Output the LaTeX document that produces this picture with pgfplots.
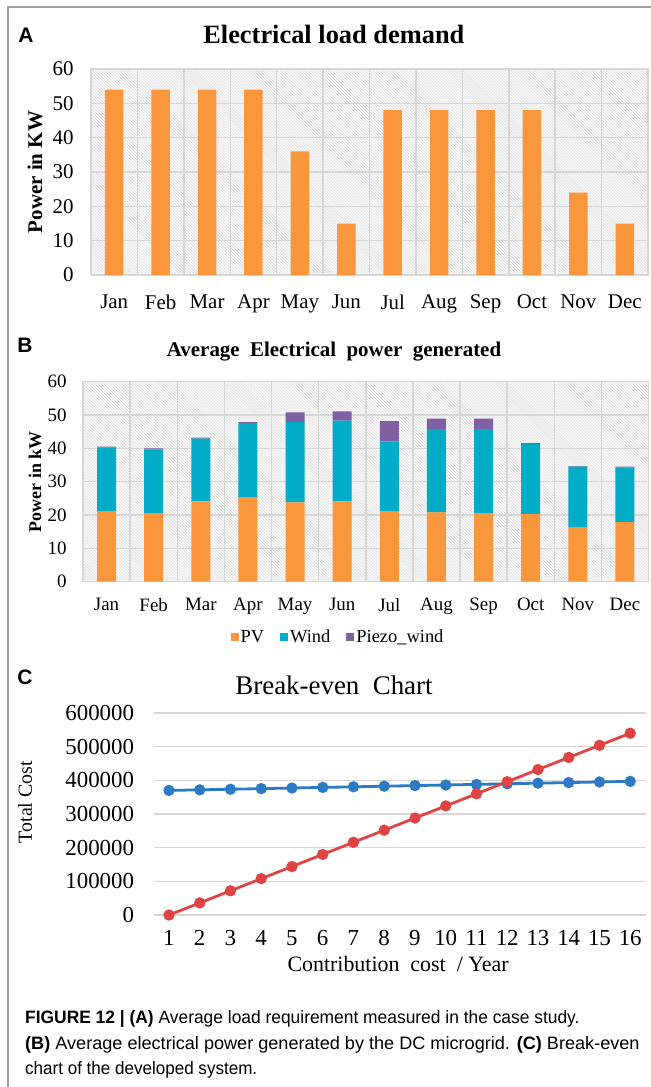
\documentclass[border=0pt]{standalone}
\usepackage{fontspec}
\setmainfont{Liberation Serif}
\newfontfamily\capfont{Liberation Sans}
\usepackage{pgfplots}
\pgfplotsset{compat=1.18}
\usetikzlibrary{patterns}
\definecolor{pvor}{RGB}{250,150,60}
\definecolor{windc}{RGB}{0,172,198}
\definecolor{piezoc}{RGB}{128,96,162}
\definecolor{gridc}{RGB}{214,214,214}
\definecolor{lblue}{RGB}{44,122,196}
\definecolor{lred}{RGB}{222,68,68}
\pgfplotsset{
  hatchbg/.style={axis background/.style={fill=gray!4, postaction={pattern=north west lines, pattern color=gray!32}}},
}
\begin{document}
\begin{tikzpicture}
\useasboundingbox (0,0) rectangle (651bp,-1087bp);
\draw[line width=1.4bp, color=gray!75] (8bp,-1087bp) -- (8bp,-7bp) -- (651bp,-7bp);
\node[font=\capfont\bfseries\fontsize{21}{21}\selectfont] at (26bp,-35.5bp) {A};
\node[font=\capfont\bfseries\fontsize{21}{21}\selectfont] at (25bp,-345bp) {B};
\node[font=\capfont\bfseries\fontsize{21}{21}\selectfont] at (25bp,-677bp) {C};

% Panel A
\begin{axis}[
  at={(91bp,-275bp)}, anchor=south west,
  scale only axis, width=557bp, height=206bp,
  hatchbg,
  xmin=-0.5, xmax=11.5, ymin=0, ymax=60,
  ytick={0,10,...,60},
  xtick={0,...,11},
  xticklabels={Jan,Feb,Mar,Apr,May,Jun,Jul,Aug,Sep,Oct,Nov,Dec},
  minor xtick={0.5,1.5,...,10.5},
  ymajorgrids, xminorgrids,
  grid style={gridc, line width=1.5bp},
  minor grid style={gridc, line width=1.5bp},
  axis line style={gridc, line width=1.5bp},
  major tick length=0pt, minor tick length=0pt,
  ticklabel style={font=\fontsize{21}{21}\selectfont},
  /pgf/number format/assume math mode=true,
  yticklabel style={xshift=-14bp},
  xticklabel style={yshift=-16bp},
  title={Electrical load demand},
  title style={at={(axis description cs:0.436,1.141)}, anchor=center, font=\bfseries\fontsize{26.5}{26.5}\selectfont},
  ylabel={Power in KW},
  every axis y label/.style={at={(axis description cs:-0.1005,0.5)}, anchor=center, rotate=90, font=\bfseries\fontsize{21}{21}\selectfont},
  ybar, bar width=18.5bp,
]
\addplot[fill=pvor, draw=none] coordinates {
 (0,54) (1,54) (2,54) (3,54) (4,36) (5,15) (6,48) (7,48) (8,48) (9,48) (10,24) (11,15)};
\end{axis}

% Panel B
\begin{axis}[
  at={(83bp,-581.7bp)}, anchor=south west,
  scale only axis, width=565.5bp, height=200bp,
  hatchbg,
  xmin=-0.5, xmax=11.5, ymin=0, ymax=60,
  ytick={0,10,...,60},
  xtick={0,...,11},
  xticklabels={Jan,Feb,Mar,Apr,May,Jun,Jul,Aug,Sep,Oct,Nov,Dec},
  minor xtick={0.5,1.5,...,10.5},
  ymajorgrids, xminorgrids,
  grid style={gridc, line width=1.5bp},
  minor grid style={gridc, line width=1.5bp},
  axis line style={gridc, line width=1.5bp},
  major tick length=0pt, minor tick length=0pt,
  ticklabel style={font=\fontsize{19}{19}\selectfont},
  /pgf/number format/assume math mode=true,
  yticklabel style={xshift=-13bp},
  xticklabel style={yshift=-13bp},
  title={Average\ \ Electrical\ \ power\ \ generated},
  title style={at={(axis description cs:0.4439,1.1185)}, anchor=center, font=\bfseries\fontsize{21}{21}\selectfont},
  ylabel={Power in kW},
  every axis y label/.style={at={(axis description cs:-0.0849,0.5)}, anchor=center, rotate=90, font=\bfseries\fontsize{18}{18}\selectfont},
  ybar stacked, bar width=19bp,
  legend style={at={(axis description cs:0.451,-0.2765)}, anchor=center, draw=none, fill=none,
    legend columns=3, font=\fontsize{18.5}{18.5}\selectfont,
    /tikz/every even column/.append style={column sep=14bp}},
  legend image code/.code={\fill[#1] (0bp,-4bp) rectangle (8bp,4bp);},
]
\addplot[fill=pvor, draw=none] coordinates {
 (0,21.2) (1,20.6) (2,24.1) (3,25.2) (4,23.8) (5,24.1) (6,21.2) (7,20.8) (8,20.6) (9,20.3) (10,16.4) (11,17.9)};
\addplot[fill=windc, draw=none] coordinates {
 (0,19.1) (1,19.1) (2,18.8) (3,22.4) (4,24.1) (5,24.2) (6,20.9) (7,25.0) (8,25.2) (9,21.0) (10,18.1) (11,16.4)};
\addplot[fill=piezoc, draw=none] coordinates {
 (0,0.2) (1,0.3) (2,0.3) (3,0.3) (4,2.9) (5,2.8) (6,6.1) (7,3.1) (8,3.1) (9,0.3) (10,0.2) (11,0.2)};
\legend{PV,Wind,Piezo\_wind}
\end{axis}

% Panel C
\begin{axis}[
  at={(153.6bp,-915bp)}, anchor=south west,
  scale only axis, width=492bp, height=202bp,
  xmin=0.5, xmax=16.5, ymin=0, ymax=600000,
  clip=false,
  xtick={1,...,16},
  ytick={0,100000,...,600000},
  scaled y ticks=false,
  yticklabel style={/pgf/number format/fixed, /pgf/number format/1000 sep={}, xshift=-16bp},
  xticklabel style={yshift=-12bp},
  ymajorgrids,
  grid style={gridc, line width=1.5bp},
  axis lines*=left,
  axis line style={draw=none},
  major tick length=0pt,
  ticklabel style={font=\fontsize{23}{23}\selectfont},
  /pgf/number format/assume math mode=true,
  title={Break-even\ \ Chart},
  title style={at={(axis description cs:0.3667,1.109)}, anchor=center, font=\fontsize{27}{27}\selectfont},
  xlabel={Contribution\ \ cost\ \ /\ Year},
  every axis x label/.style={at={(axis description cs:0.497,-0.243)}, anchor=center, font=\fontsize{22}{22}\selectfont},
  ylabel={Total Cost},
  every axis y label/.style={at={(axis description cs:-0.2614,0.559)}, anchor=center, rotate=90, font=\fontsize{20}{20}\selectfont},
]
\addplot[lblue, line width=2.8bp, mark=*, mark size=4.2bp] coordinates {
 (1,370000) (2,371800) (3,373600) (4,375400) (5,377200) (6,379000) (7,380800) (8,382600)
 (9,384400) (10,386200) (11,388000) (12,389800) (13,391600) (14,393400) (15,395200) (16,397000)};
\addplot[lred, line width=2.8bp, mark=*, mark size=4.2bp] coordinates {
 (1,0) (2,36000) (3,72000) (4,108000) (5,144000) (6,180000) (7,216000) (8,252000)
 (9,288000) (10,324000) (11,360000) (12,396000) (13,432000) (14,468000) (15,504000) (16,540000)};
\end{axis}

% Caption
\begin{scope}[every node/.style={anchor=base west, inner sep=0pt, font=\capfont\fontsize{18}{18}\selectfont}]
\node at (25bp,-1023bp) {\scalebox{0.97}[1]{\textbf{FIGURE 12 | (A)} Average load requirement measured in the case study.}};
\node at (25bp,-1049bp) {\scalebox{1.01}[1]{\textbf{(B)} Average electrical power generated by the DC microgrid. \textbf{(C)} Break-even}};
\node at (25bp,-1074bp) {\scalebox{0.95}[1]{chart of the developed system.}};
\end{scope}
\end{tikzpicture}
\end{document}
